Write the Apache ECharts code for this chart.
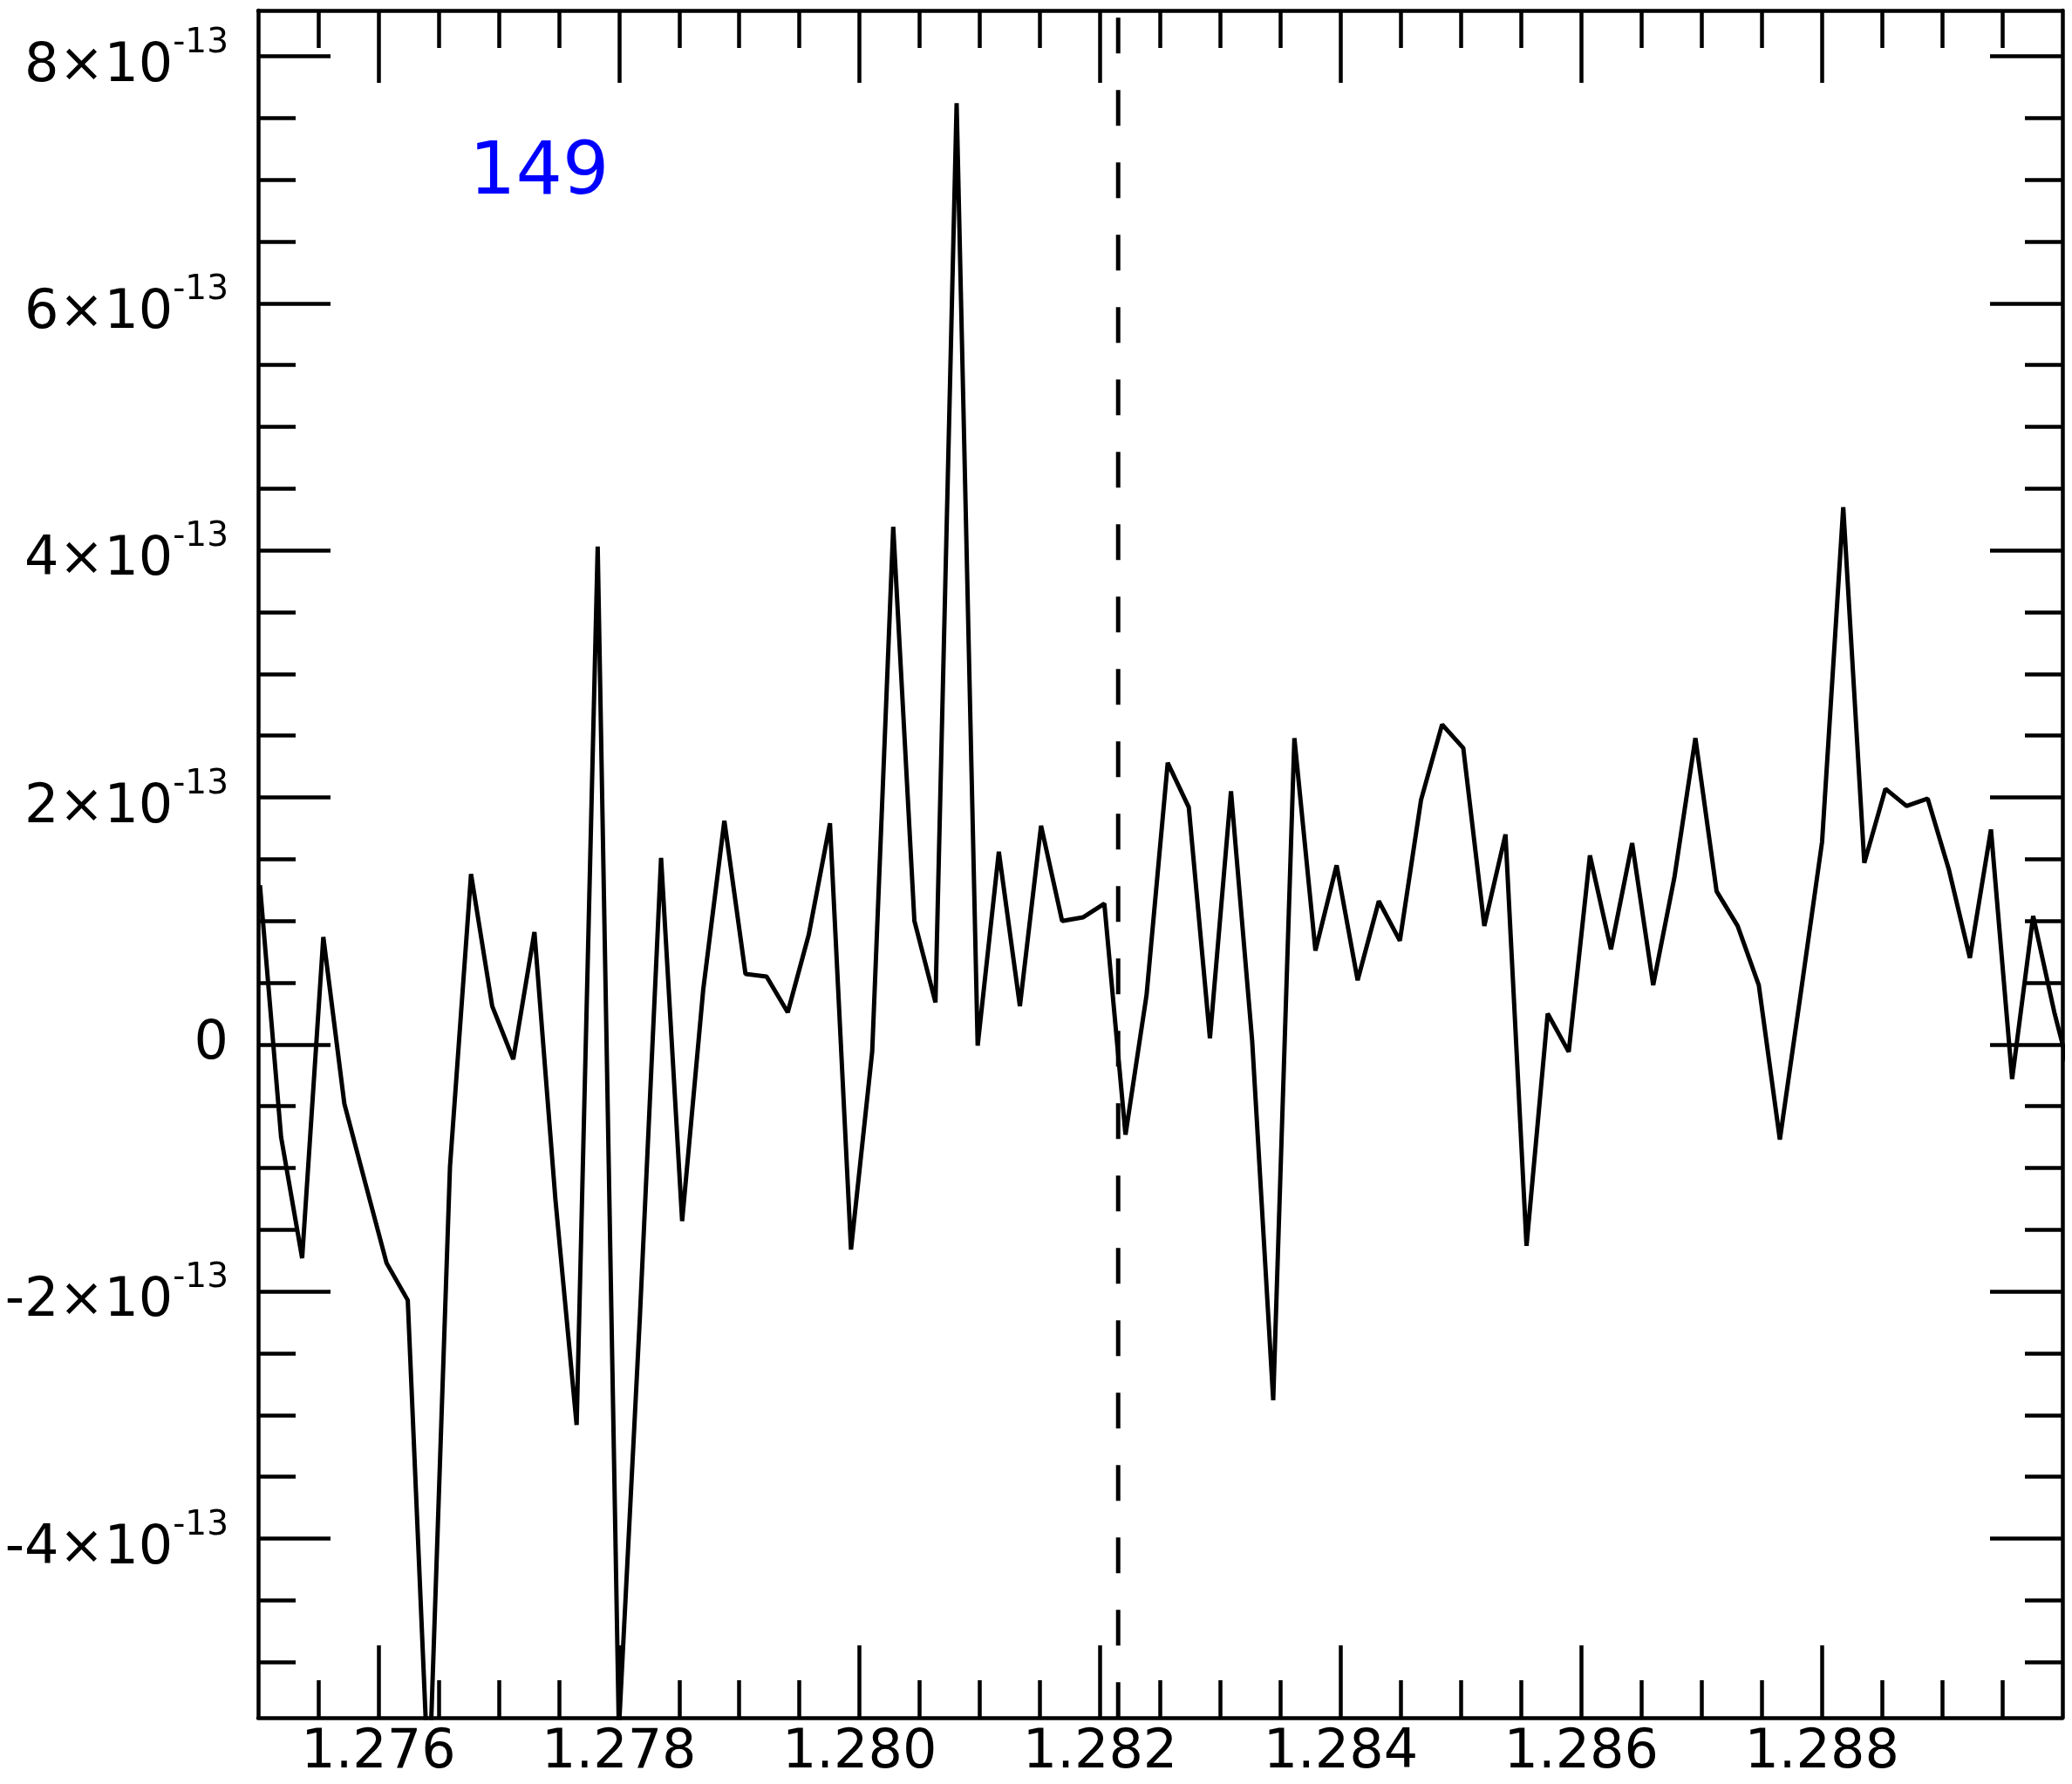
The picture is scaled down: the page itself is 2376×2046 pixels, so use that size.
<!DOCTYPE html>
<html>
<head>
<meta charset="utf-8">
<script src="https://cdn.jsdelivr.net/npm/echarts@6/dist/echarts.min.js"></script>
<style>
html,body{margin:0;padding:0;background:#fff;}
#chart{width:2376px;height:2046px;}
</style>
</head>
<body>
<div id="chart"></div>
<script>
// wavelength (x) values of the spectrum samples
var wavelength = [
  1.275015, 1.275191, 1.275366, 1.275542, 1.275717, 1.275893, 1.276068, 1.276244, 1.276419, 1.276595,
  1.276770, 1.276946, 1.277121, 1.277297, 1.277472, 1.277648, 1.277823, 1.277999, 1.278174, 1.278350,
  1.278525, 1.278701, 1.278876, 1.279052, 1.279227, 1.279403, 1.279578, 1.279754, 1.279929, 1.280105,
  1.280280, 1.280456, 1.280631, 1.280807, 1.280982, 1.281158, 1.281333, 1.281509, 1.281684, 1.281860,
  1.282035, 1.282211, 1.282386, 1.282562, 1.282737, 1.282913, 1.283088, 1.283264, 1.283439, 1.283615,
  1.283790, 1.283966, 1.284141, 1.284317, 1.284492, 1.284668, 1.284843, 1.285019, 1.285194, 1.285370,
  1.285545, 1.285721, 1.285896, 1.286072, 1.286247, 1.286423, 1.286598, 1.286774, 1.286949, 1.287125,
  1.287300, 1.287476, 1.287651, 1.287827, 1.288002, 1.288178, 1.288353, 1.288529, 1.288704, 1.288880,
  1.289055, 1.289231, 1.289406, 1.289582, 1.289757, 1.289933, 1.290108
];
// flux values in units of 1e-13
var flux = [
  1.29, -0.75, -1.73, 0.87, -0.48, -1.13, -1.77, -2.07, -6.05, -0.99,
  1.38, 0.31, -0.12, 0.91, -1.26, -3.08, 4.03, -5.55, -2.20, 1.51,
  -1.43, 0.45, 1.81, 0.57, 0.55, 0.26, 0.89, 1.79, -1.66, -0.06,
  4.19, 1.00, 0.34, 7.62, -0.01, 1.56, 0.31, 1.77, 1.00, 1.03,
  1.14, -0.73, 0.40, 2.28, 1.92, 0.05, 2.05, 0.03, -2.88, 2.48,
  0.76, 1.45, 0.52, 1.16, 0.84, 1.98, 2.59, 2.40, 0.96, 1.70,
  -1.63, 0.25, -0.06, 1.53, 0.77, 1.63, 0.48, 1.35, 2.48, 1.24,
  0.96, 0.48, -0.77, 0.43, 1.64, 4.35, 1.47, 2.07, 1.93, 1.99,
  1.42, 0.70, 1.74, -0.28, 1.04, 0.26, -0.40
];
var markerWavelength = 1.28215;
var labelText = '149';

var xRange = [1.275, 1.290];
var yRange = [-5.45, 8.37];
var xMajorTicks = [1.276, 1.278, 1.280, 1.282, 1.284, 1.286, 1.288];
var xMinorTicks = [1.2755, 1.276, 1.2765, 1.277, 1.2775, 1.278, 1.2785, 1.279, 1.2795, 1.280,
                   1.2805, 1.281, 1.2815, 1.282, 1.2825, 1.283, 1.2835, 1.284, 1.2845, 1.285,
                   1.2855, 1.286, 1.2865, 1.287, 1.2875, 1.288, 1.2885, 1.289, 1.2895];
var yMajorTicks = [-4, -2, 0, 2, 4, 6, 8];
var yMinorTicks = [-5, -4.5, -4, -3.5, -3, -2.5, -2, -1.5, -1, -0.5, 0, 0.5, 1, 1.5, 2, 2.5,
                   3, 3.5, 4, 4.5, 5, 5.5, 6, 6.5, 7, 7.5, 8];

var FONT = 'DejaVu Sans';
var LW = 4.5;

function xAxisDef(pos, ticks, len, showLine, showLabel) {
  return {
    type: 'value', min: xRange[0], max: xRange[1], position: pos,
    axisLine: { show: showLine, onZero: false, lineStyle: { color: '#000', width: LW } },
    axisTick: { show: true, inside: true, length: len, customValues: ticks, lineStyle: { color: '#000', width: LW } },
    axisLabel: showLabel ? {
      show: true, customValues: xMajorTicks, margin: 10, color: '#000',
      fontFamily: FONT, fontSize: 62,
      formatter: function (v) { return v.toFixed(3); }
    } : { show: false },
    splitLine: { show: false }
  };
}
function yAxisDef(pos, ticks, len, showLine, showLabel) {
  return {
    type: 'value', min: yRange[0], max: yRange[1], position: pos,
    axisLine: { show: showLine, onZero: false, lineStyle: { color: '#000', width: LW } },
    axisTick: { show: true, inside: true, length: len, customValues: ticks, lineStyle: { color: '#000', width: LW } },
    axisLabel: showLabel ? {
      show: true, customValues: yMajorTicks, margin: 34, color: '#000',
      fontFamily: FONT,
      formatter: function (v) {
        if (v === 0) return '{z|0}';
        return '{m|' + v + '×10}{s|-13}';
      },
      rich: {
        z: { fontFamily: FONT, fontSize: 62, lineHeight: 62, color: '#000', verticalAlign: 'middle' },
        m: { fontFamily: FONT, fontSize: 62, lineHeight: 62, color: '#000', padding: [24, 0, 0, 0], verticalAlign: 'middle' },
        s: { fontFamily: FONT, fontSize: 39, lineHeight: 39, color: '#000', padding: [0, 0, 30, 0], verticalAlign: 'middle' }
      }
    } : { show: false },
    splitLine: { show: false }
  };
}

var seriesData = wavelength.map(function (w, i) { return [w, flux[i]]; });

var chart = echarts.init(document.getElementById('chart'), null, { renderer: 'canvas' });
chart.setOption({
  animation: false,
  backgroundColor: '#fff',
  grid: { left: 296, right: 11, top: 12, bottom: 76, containLabel: false },
  xAxis: [
    xAxisDef('bottom', xMajorTicks, 83, true, true),
    xAxisDef('bottom', xMinorTicks, 43, false, false),
    xAxisDef('top', xMajorTicks, 83, true, false),
    xAxisDef('top', xMinorTicks, 43, false, false)
  ],
  yAxis: [
    yAxisDef('left', yMajorTicks, 83, true, true),
    yAxisDef('left', yMinorTicks, 43, false, false),
    yAxisDef('right', yMajorTicks, 83, true, false),
    yAxisDef('right', yMinorTicks, 43, false, false)
  ],
  graphic: [{
    type: 'text', left: 538, top: 158, z: 10,
    style: { text: labelText, fill: '#0000ff', font: '84px "DejaVu Sans"' }
  }],
  series: [
    {
      type: 'line', xAxisIndex: 0, yAxisIndex: 0, data: seriesData,
      symbol: 'none', clip: true,
      lineStyle: { color: '#000', width: 5 }
    },
    {
      type: 'line', xAxisIndex: 0, yAxisIndex: 0,
      data: [[markerWavelength, yRange[1]], [markerWavelength, yRange[0]]],
      symbol: 'none', clip: true,
      lineStyle: { color: '#000', width: 5, type: [41, 42], dashOffset: 74.7 }
    }
  ]
});
</script>
</body>
</html>
